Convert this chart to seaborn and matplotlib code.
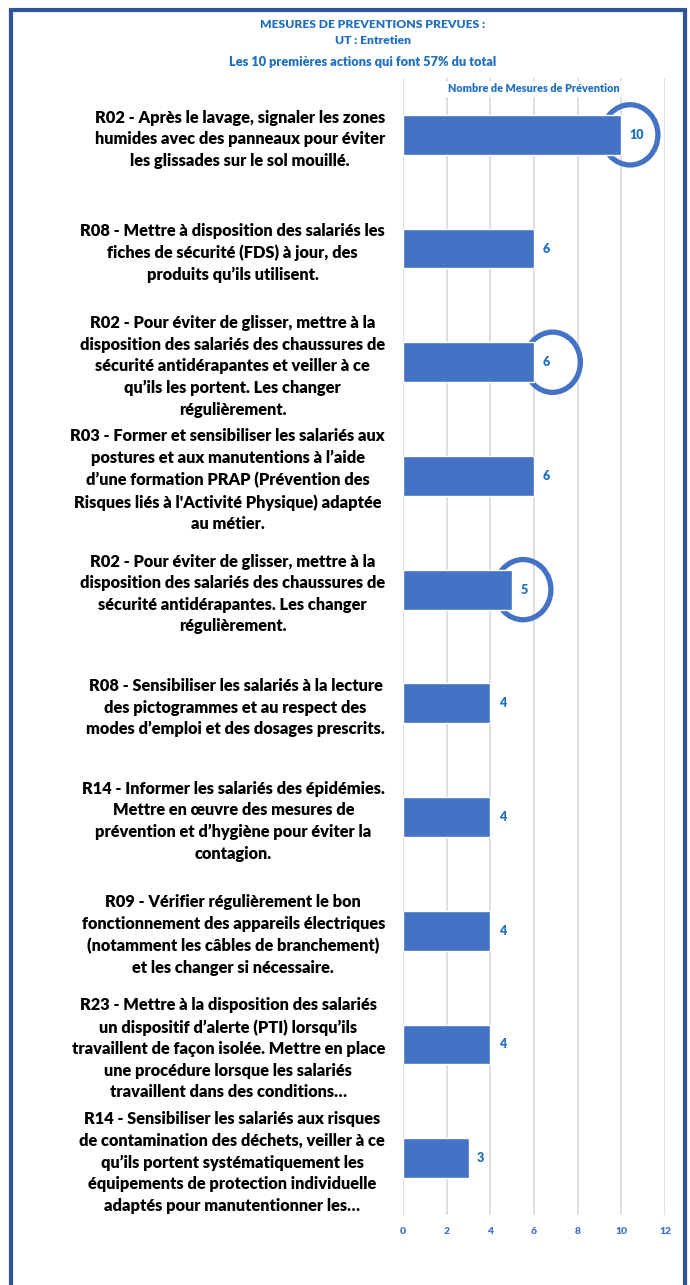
import matplotlib.pyplot as plt
import numpy as np
import pandas as pd
import seaborn as sns
from matplotlib.lines import Line2D
from matplotlib.patches import Ellipse

sns.set_theme(style="white")
plt.rcParams["font.family"] = ["Lato", "DejaVu Sans"]

# Data ----------------------------------------------------------------------
actions = [
    "R02 - Après le lavage, signaler les zones\nhumides avec des panneaux pour éviter\nles glissades sur le sol mouillé.",
    "R08 - Mettre à disposition des salariés les\nfiches de sécurité (FDS) à jour, des\nproduits qu’ils utilisent.",
    "R02 - Pour éviter de glisser, mettre à la\ndisposition des salariés des chaussures de\nsécurité antidérapantes et veiller à ce\nqu’ils les portent. Les changer\nrégulièrement.",
    "R03 - Former et sensibiliser les salariés aux\npostures et aux manutentions à l’aide\nd’une formation PRAP (Prévention des\nRisques liés à l'Activité Physique) adaptée\nau métier.",
    "R02 - Pour éviter de glisser, mettre à la\ndisposition des salariés des chaussures de\nsécurité antidérapantes. Les changer\nrégulièrement.",
    "R08 - Sensibiliser les salariés à la lecture\ndes pictogrammes et au respect des\nmodes d’emploi et des dosages prescrits.",
    "R14 - Informer les salariés des épidémies.\nMettre en œuvre des mesures de\nprévention et d’hygiène pour éviter la\ncontagion.",
    "R09 - Vérifier régulièrement le bon\nfonctionnement des appareils électriques\n(notamment les câbles de branchement)\net les changer si nécessaire.",
    "R23 - Mettre à la disposition des salariés\nun dispositif d’alerte (PTI) lorsqu’ils\ntravaillent de façon isolée. Mettre en place\nune procédure lorsque les salariés\ntravaillent dans des conditions…",
    "R14 - Sensibiliser les salariés aux risques\nde contamination des déchets, veiller à ce\nqu’ils portent systématiquement les\néquipements de protection individuelle\nadaptés pour manutentionner les…",
]
counts = [10, 6, 6, 6, 5, 4, 4, 4, 4, 3]
x_ticks = [0, 2, 4, 6, 8, 10, 12]

# hand-drawn highlight circles: row index and offset from bar end
circled_rows = [0, 2, 4]
circle_offsets = [0.4, 0.85, 0.5]

title_lines = [
    "MESURES DE PREVENTIONS PREVUES :",
    "UT : Entretien",
    "Les 10 premières actions qui font 57% du total",
]
axis_title = "Nombre de Mesures de Prévention"

BAR_COLOR = "#4472C4"
TEXT_BLUE = "#1F70C1"
FRAME_COLOR = "#2F5597"
GRID_COLOR = "#D9D9D9"

df = pd.DataFrame({"action": actions, "count": counts})

# Plot ----------------------------------------------------------------------
W, H = 690, 1285
fig = plt.figure(figsize=(W / 100, H / 100), dpi=100)
ax = fig.add_axes([403 / W, 1 - 1215 / H, (665 - 403) / W, (1215 - 78) / H])

sns.barplot(data=df, x="count", y="action", color=BAR_COLOR, saturation=1,
            width=0.35, ax=ax, zorder=2)

ax.set_xlim(0, 12)
ax.set_xticks(x_ticks)
ax.set_ylim(9.5, -0.5)
ax.grid(axis="x", color=GRID_COLOR, linewidth=1.2)
ax.set_axisbelow(True)
for s in ax.spines.values():
    s.set_visible(False)

ax.set_xlabel("")
ax.set_ylabel("")
ax.tick_params(axis="x", length=0, pad=9, labelsize=7.5, labelcolor=BAR_COLOR)
for t in ax.get_xticklabels():
    t.set_fontweight("heavy")

ax.tick_params(axis="y", which="major", length=0, pad=13, labelsize=11.8,
               labelcolor="black")
for t in ax.get_yticklabels():
    t.set_fontweight("heavy")
    t.set_multialignment("center")
    t.set_linespacing(1.43)
ax.set_yticks(np.arange(len(actions) + 1) - 0.5, minor=True)
ax.tick_params(axis="y", which="minor", length=5, width=1, color=GRID_COLOR)

ax.bar_label(ax.containers[0], padding=6, fontsize=9, fontweight="heavy",
             color=TEXT_BLUE)

# circles sit behind the bars, as in the original drawing
for row, off in zip(circled_rows, circle_offsets):
    ax.add_patch(Ellipse((counts[row] + off, row), width=2.55, height=0.53,
                         fill=False, edgecolor=BAR_COLOR, linewidth=3.8,
                         clip_on=False, zorder=1.5))

ax.text(0.5, 1 - 11 / (1215 - 78), axis_title, transform=ax.transAxes,
        ha="center", va="center", fontsize=7.8, fontweight="heavy",
        color=TEXT_BLUE,
        bbox=dict(facecolor="white", edgecolor="none", pad=1.5))

fig.text(373 / W, 1 - 24 / H, title_lines[0], ha="center", va="center",
         fontsize=8.7, fontweight="heavy", color=TEXT_BLUE)
fig.text(373 / W, 1 - 40 / H, title_lines[1], ha="center", va="center",
         fontsize=8.7, fontweight="heavy", color=TEXT_BLUE)
fig.text(363 / W, 1 - 62 / H, title_lines[2], ha="center", va="center",
         fontsize=9.2, fontweight="heavy", color=TEXT_BLUE)

# outer frame (open at the bottom)
lw = 3
x0, x1, ytop = 11 / W, 685 / W, 1 - 10 / H
fig.add_artist(Line2D([x0, x0], [0, ytop], color=FRAME_COLOR, linewidth=lw))
fig.add_artist(Line2D([x0, x1], [ytop, ytop], color=FRAME_COLOR, linewidth=lw,
                      solid_capstyle="projecting"))
fig.add_artist(Line2D([x1, x1], [0, ytop], color=FRAME_COLOR, linewidth=lw))

fig.savefig("out.png", dpi=100)
plt.close(fig)
